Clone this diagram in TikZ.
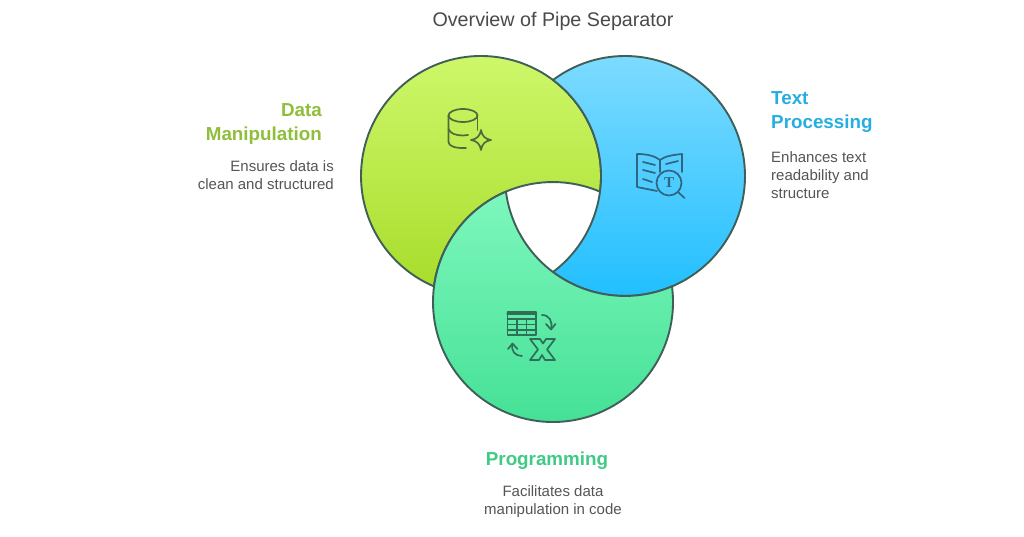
\documentclass[tikz,border=0pt]{standalone}
\usepackage{fontspec}
\setmainfont{Liberation Sans}
\newfontfamily\serifT{Liberation Serif}
\definecolor{edgecol}{HTML}{3F5F58}
\definecolor{titlecol}{HTML}{4A4A4A}
\definecolor{desccol}{HTML}{555555}
\definecolor{headA}{HTML}{8FBF3A}
\definecolor{headB}{HTML}{27AEE0}
\definecolor{headC}{HTML}{3FCB85}
\definecolor{iconA}{HTML}{4E6B3C}
\definecolor{iconB}{HTML}{2F6580}
\definecolor{iconC}{HTML}{2F6F58}
\tikzset{
  x=1pt,y=1pt,
  blob/.style={draw=edgecol,line width=1.9pt,line join=round},
  titletext/.style={font=\fontsize{19.7}{22}\selectfont,text=titlecol,inner sep=0pt},
  headtext/.style={font=\fontsize{18.8}{24}\selectfont\bfseries,inner sep=0pt},
  desctext/.style={font=\fontsize{15}{18}\selectfont,text=desccol,inner sep=0pt},
  iconline/.style={line width=1.7pt,line cap=round,line join=round},
}
\begin{document}
\begin{tikzpicture}
\useasboundingbox (0,0) rectangle (1024,536);
\fill[white] (0,0) rectangle (1024,536);
% circle centres (y up): green (481,360), blue (625,360), mint (553,234), radius 120
\draw[blob,top color={rgb,255:red,207;green,248;blue,108},bottom color={rgb,255:red,168;green,221;blue,44}]
  (481,360) ++(-7.5:120) arc[start angle=-7.5,end angle=246.9,radius=120]
  arc[start angle=172.5,end angle=66.9,radius=120] -- cycle;
\draw[blob,top color={rgb,255:red,128;green,220;blue,255},bottom color={rgb,255:red,28;green,189;blue,255}]
  (625,360) ++(233.13:120) arc[start angle=233.13,end angle=486.87,radius=120]
  arc[start angle=53.13,end angle=-53.13,radius=120] -- cycle;
\draw[blob,top color={rgb,255:red,126;green,247;blue,189},bottom color={rgb,255:red,67;green,224;blue,149}]
  (553,234) ++(7.5:120) arc[start angle=7.5,end angle=-246.9,radius=120]
  arc[start angle=187.5,end angle=293.1,radius=120] -- cycle;
\begin{scope}[shift={(0,536)},yscale=-1]
  % database with sparkle
  \begin{scope}[iconA,iconline]
    \draw (463,115.5) ellipse[x radius=14.5,y radius=6.5];
    \draw (448.5,115.5) -- (448.5,142) .. controls (448.5,146) and (455,148.5) .. (466,148);
    \draw (477.5,115.5) -- (477.5,130);
    \draw (448.5,129) .. controls (450,133.5) and (456,135.5) .. (463,135.5) -- (468,135);
    \draw (481,130) .. controls (482,136) and (485,139) .. (491,140)
       .. controls (485,141) and (482,144) .. (481,150)
       .. controls (480,144) and (477,141) .. (471,140)
       .. controls (477,139) and (480,136) .. (481,130) -- cycle;
  \end{scope}
  % open book with lens
  \begin{scope}[iconB,iconline]
    \draw (657,191) -- (637,187) -- (637,154) .. controls (647,154) and (655,156) .. (660,160)
      .. controls (665,156) and (673,155) .. (682,154) -- (682,172);
    \draw (660,160) -- (660,172);
    \draw (643,162) -- (655,165);
    \draw (643,170) -- (655,173);
    \draw (643,179) -- (652,182);
    \draw (666,164) -- (678,161);
    \draw (669,183) circle[radius=12.5];
    \draw (678,192) -- (684.5,198);
  \end{scope}
  % table, arrows and X
  \begin{scope}[iconC,iconline]
    \draw (507.5,312) rectangle (536,335);
    \draw[line width=2.4pt] (507.5,313.5) -- (536,313.5);
    \draw (507.5,319) -- (536,319);
    \draw (507.5,324.5) -- (536,324.5);
    \draw (507.5,330) -- (536,330);
    \draw (517,319) -- (517,335);
    \draw (526.5,319) -- (526.5,335);
    \draw (542,315) .. controls (549,315) and (553,321) .. (551,329);
    \draw (546,324) -- (551,329.5) -- (555.5,324);
    \draw (522,356) .. controls (515,356) and (511,351) .. (512.5,344);
    \draw (508,349) -- (512.5,343.5) -- (517.5,349);
    \draw (530,339) -- (540,339) -- (543,343.5) -- (546,339) -- (555,339) -- (547,349.5)
      -- (555,360) -- (545,360) -- (542,355) -- (539,360) -- (530,360) -- (538,349.5) -- cycle;
  \end{scope}
\end{scope}
\node[text=iconB,font=\fontsize{15}{15}\selectfont\serifT\bfseries] (lensT) at (669,353.5) {T};
\node[titletext] (title) at (553,515) {Overview of Pipe Separator};
\node[headtext,text=headA,align=right,anchor=north east] (headA) at (322,433) {Data\\Manipulation};
\node[desctext,align=right,anchor=north east] (descA) at (334,376) {Ensures data is\\clean and structured};
\node[headtext,text=headB,align=left,anchor=north west] (headB) at (771,445) {Text\\Processing};
\node[desctext,align=left,anchor=north west] (descB) at (771,385) {Enhances text\\readability and\\structure};
\node[headtext,text=headC] (headC) at (547,75) {Programming};
\node[desctext,align=center,anchor=north] (descC) at (553,51) {Facilitates data\\manipulation in code};
\end{tikzpicture}
\end{document}
